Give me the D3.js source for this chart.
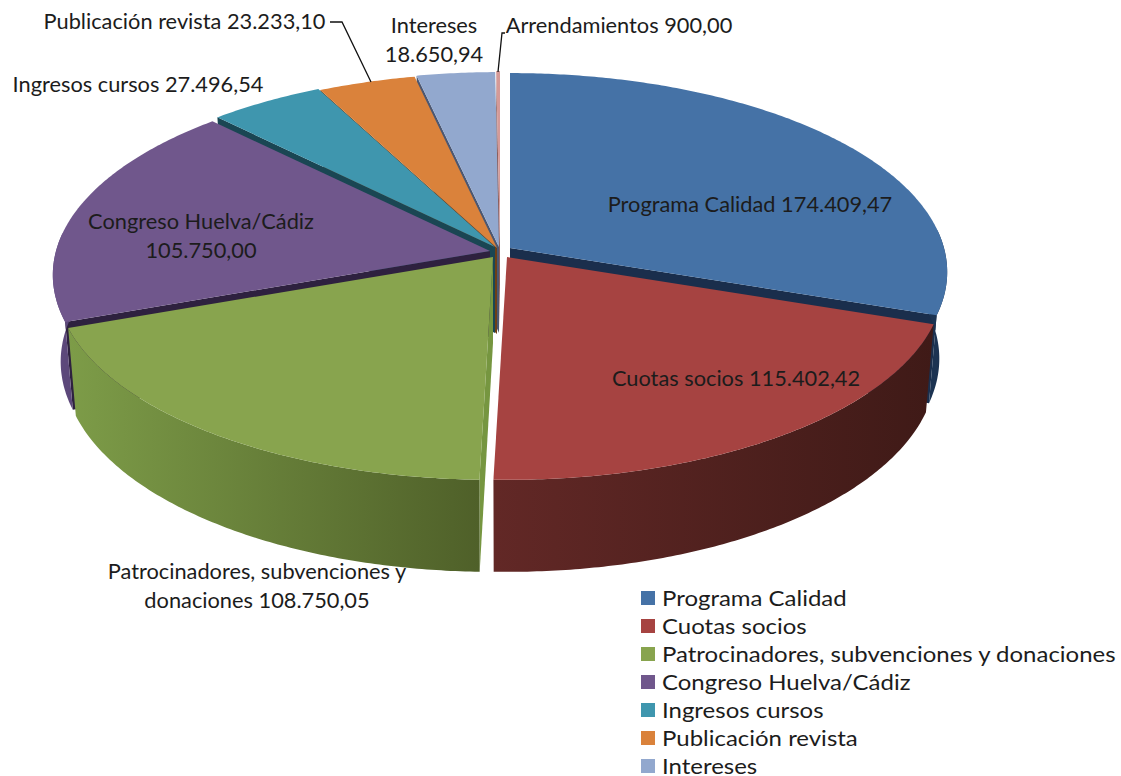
<!DOCTYPE html>
<html><head><meta charset="utf-8">
<script src="https://cdn.jsdelivr.net/npm/d3@7/dist/d3.min.js"></script>
<style>html,body{margin:0;padding:0;background:#fff}svg{display:block}text{font-family:Lato,"Open Sans",sans-serif;fill:#1c1c1c}</style>
</head><body><svg id="c" width="1121" height="776"></svg>
<script>
const categories=["Programa Calidad","Cuotas socios","Patrocinadores, subvenciones y donaciones","Congreso Huelva/Cádiz","Ingresos cursos","Publicación revista","Intereses","Arrendamientos"];
const values=[174409.47,115402.42,108750.05,105750.00,27496.54,23233.10,18650.94,900.00];
const valueLabels=["174.409,47","115.402,42","108.750,05","105.750,00","27.496,54","23.233,10","18.650,94","900,00"];
const topColors=["#4572a6","#a64341","#88a44e","#70578c","#3f96ae","#da823b","#92a8ce","#d49a98"];
const radialColors=["#1a2e4c","#4a1c1a","#769640","#2e213f","#1a4653","#6e3f15","#4b5772","#8a5f5e"];
const wallStops=[["#1c3352","#1a2e4c"],["#622826","#3f1a17"],["#7d9c48","#4f6029"],["#604b80","#5c487a"],["#1a4653","#1a4653"],["#6e3f15","#6e3f15"],["#4b5772","#4b5772"],["#8a5f5e","#8a5f5e"]];
const apexX=[510,507,493,490,495,497,499,500];
const apexY=[248,257,257,251,247,248,247,246];
const paintOrder=[7,6,5,4,3,0,2,1];
const labelRows=[
 {lines:["Programa Calidad 174.409,47"],x:750,y:212},
 {lines:["Cuotas socios 115.402,42"],x:736,y:386},
 {lines:["Patrocinadores, subvenciones y","donaciones 108.750,05"],x:257,y:579},
 {lines:["Congreso Huelva/Cádiz","105.750,00"],x:201,y:229},
 {lines:["Ingresos cursos 27.496,54"],x:138,y:92},
 {lines:["Publicación revista 23.233,10"],x:184.5,y:29},
 {lines:["Intereses","18.650,94"],x:434,y:33},
 {lines:["Arrendamientos 900,00"],x:619,y:33}];
const leaders=[[[330,22],[342,22],[371,82]],[[505,33],[502,33],[498,72]]];

const svg=d3.select("#c"), defs=svg.append("defs");
const RX=434,RY=196,K=0.1205,XS=0.982;
const project=(i,t)=>{const d=1+K*Math.cos(t);return [apexX[i]+RX*Math.sin(t)/d,apexY[i]-RY*Math.cos(t)/d];};
const drop=(i,p)=>[apexX[i]+(p[0]-apexX[i])*XS,p[1]+86+0.027*(p[1]-apexY[i])];
const line=d3.line();
const arcs=d3.pie().sort(null).startAngle(0).endAngle(2*Math.PI)(values);
const samples=(a,b)=>{const n=Math.max(2,Math.ceil((b-a)/0.01));return d3.range(n+1).map(k=>a+(b-a)*k/n);};

const slices=svg.append("g");
paintOrder.forEach(i=>{
 const a=arcs[i], g=slices.append("g");
 const apexT=[apexX[i],apexY[i]], apexB=drop(i,apexT);
 const radial=t=>{const p=project(i,t);return line([apexT,p,drop(i,p),apexB])+"Z";};
 if(Math.sin(a.startAngle)<0) g.append("path").attr("d",radial(a.startAngle)).attr("fill",radialColors[i]);
 if(Math.sin(a.endAngle)>0) g.append("path").attr("d",radial(a.endAngle)).attr("fill",radialColors[i]);
 const lo=Math.max(a.startAngle,Math.PI*0.47), hi=Math.min(a.endAngle,Math.PI*1.53);
 if(hi>lo){
  const rim=samples(lo,hi).map(t=>project(i,t));
  const xs=d3.extent(rim,p=>p[0]);
  const id="w"+i;
  const lg=defs.append("linearGradient").attr("id",id).attr("gradientUnits","userSpaceOnUse")
    .attr("x1",xs[0]).attr("x2",xs[1]).attr("y1",0).attr("y2",0);
  lg.append("stop").attr("offset",0).attr("stop-color",wallStops[i][0]);
  lg.append("stop").attr("offset",1).attr("stop-color",wallStops[i][1]);
  g.append("path").attr("d",line(rim.concat(rim.map(p=>drop(i,p)).reverse()))+"Z").attr("fill",`url(#${id})`);
 }
 g.append("path").attr("d",line([apexT].concat(samples(a.startAngle,a.endAngle).map(t=>project(i,t))))+"Z").attr("fill",topColors[i]);
});

const lab=svg.append("g").attr("font-size",20.5).attr("text-anchor","middle");
labelRows.forEach(r=>{
 r.lines.forEach((t,k)=>lab.append("text").attr("transform",`translate(${r.x},${r.y+k*29}) scale(1.063,1)`).text(t));
});
svg.append("g").selectAll("path").data(leaders).join("path").attr("d",d=>line(d)).attr("fill","none").attr("stroke","#111").attr("stroke-width",1.3);

const legendCats=categories.slice(0,7);
const ly=d3.scalePoint().domain(legendCats).range([598,766]);
const leg=svg.append("g").selectAll("g").data(legendCats).join("g").attr("transform",d=>`translate(641,${ly(d)})`);
leg.append("rect").attr("x",0).attr("y",-7).attr("width",14).attr("height",14).attr("fill",(d,i)=>topColors[i]);
leg.append("text").attr("transform","translate(21,8) scale(1.09,1)").attr("font-size",22).text(d=>d);
</script></body></html>
